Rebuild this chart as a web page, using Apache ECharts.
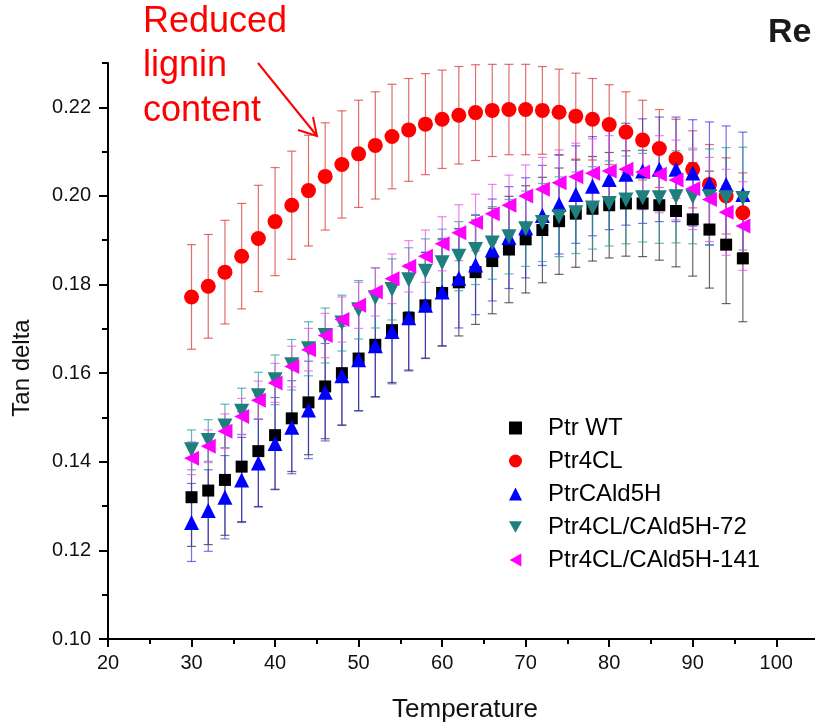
<!DOCTYPE html>
<html>
<head>
<meta charset="utf-8">
<script src="https://cdn.jsdelivr.net/npm/echarts@6/dist/echarts.min.js"></script>
<style>
html,body{margin:0;padding:0;background:#fff;}
#chart{width:815px;height:725px;}
</style>
</head>
<body>
<div id="chart"></div>
<script>
// ---- data ----
var temps = [30,32,34,36,38,40,42,44,46,48,50,52,54,56,58,60,62,64,66,68,70,72,74,76,78,80,82,84,86,88,90,92,94,96];

var seriesNames = ['Ptr WT','Ptr4CL','PtrCAld5H','Ptr4CL/CAld5H-72','Ptr4CL/CAld5H-141'];

var wtVals = [0.1320,0.1335,0.1359,0.1389,0.1424,0.1460,0.1498,0.1534,0.1570,0.1600,0.1633,0.1664,0.1697,0.1725,0.1753,0.1781,0.1805,0.1828,0.1853,0.1879,0.1902,0.1923,0.1943,0.1960,0.1971,0.1979,0.1983,0.1983,0.1979,0.1966,0.1947,0.1924,0.1890,0.1859];
var wtErr  = [0.0111,0.0122,0.0125,0.0124,0.0125,0.0122,0.0120,0.0118,0.0118,0.0117,0.0118,0.0117,0.0118,0.0118,0.0119,0.0120,0.0121,0.0118,0.0119,0.0120,0.0121,0.0119,0.0120,0.0121,0.0118,0.0119,0.0119,0.0120,0.0124,0.0126,0.0128,0.0132,0.0133,0.0143];

var cl4Vals = [0.1772,0.1796,0.1828,0.1864,0.1904,0.1942,0.1979,0.2012,0.2044,0.2071,0.2095,0.2114,0.2134,0.2149,0.2162,0.2173,0.2182,0.2188,0.2193,0.2195,0.2195,0.2193,0.2189,0.2180,0.2173,0.2161,0.2144,0.2126,0.2107,0.2084,0.2060,0.2026,0.2000,0.1962];
var cl4Err  = [0.0118,0.0117,0.0117,0.0119,0.0120,0.0122,0.0122,0.0125,0.0121,0.0121,0.0121,0.0121,0.0118,0.0116,0.0114,0.0111,0.0110,0.0108,0.0104,0.0102,0.0102,0.0099,0.0097,0.0097,0.0092,0.0090,0.0091,0.0090,0.0088,0.0089,0.0087,0.0090,0.0086,0.0090];

var cald5hVals = [0.1263,0.1290,0.1320,0.1359,0.1397,0.1441,0.1478,0.1517,0.1557,0.1594,0.1630,0.1662,0.1694,0.1725,0.1753,0.1783,0.1814,0.1844,0.1878,0.1906,0.1928,0.1956,0.1981,0.2003,0.2022,0.2037,0.2049,0.2056,0.2060,0.2060,0.2052,0.2028,0.2026,0.2003];
var cald5hErr  = [0.0088,0.0092,0.0094,0.0096,0.0099,0.0104,0.0105,0.0110,0.0110,0.0112,0.0115,0.0116,0.0118,0.0120,0.0120,0.0121,0.0112,0.0112,0.0115,0.0115,0.0113,0.0113,0.0112,0.0110,0.0112,0.0113,0.0115,0.0118,0.0118,0.0118,0.0120,0.0139,0.0132,0.0141];

var h72Vals = [0.1427,0.1448,0.1481,0.1514,0.1549,0.1585,0.1619,0.1655,0.1685,0.1713,0.1743,0.1770,0.1789,0.1811,0.1830,0.1849,0.1864,0.1879,0.1894,0.1908,0.1926,0.1940,0.1953,0.1962,0.1973,0.1983,0.1991,0.1996,0.1996,0.1998,0.1998,0.1998,0.1996,0.1994];
var h72Err  = [0.0045,0.0047,0.0049,0.0052,0.0053,0.0056,0.0057,0.0061,0.0062,0.0063,0.0066,0.0068,0.0069,0.0072,0.0073,0.0076,0.0078,0.0079,0.0082,0.0084,0.0085,0.0088,0.0090,0.0092,0.0093,0.0096,0.0099,0.0100,0.0103,0.0104,0.0106,0.0108,0.0113,0.0116];

var h141Vals = [0.1408,0.1435,0.1469,0.1502,0.1539,0.1578,0.1615,0.1653,0.1685,0.1721,0.1753,0.1783,0.1813,0.1841,0.1864,0.1892,0.1917,0.1940,0.1960,0.1979,0.2000,0.2015,0.2030,0.2043,0.2051,0.2056,0.2060,0.2054,0.2049,0.2036,0.2016,0.1992,0.1963,0.1932];
var h141Err  = [0.0037,0.0037,0.0039,0.0041,0.0043,0.0044,0.0046,0.0048,0.0050,0.0051,0.0052,0.0054,0.0056,0.0058,0.0059,0.0061,0.0063,0.0064,0.0066,0.0068,0.0070,0.0072,0.0074,0.0076,0.0078,0.0080,0.0083,0.0085,0.0087,0.0090,0.0092,0.0095,0.0097,0.0100];

var yMajorTicks = [0.10,0.12,0.14,0.16,0.18,0.20,0.22];
var yMinorTicks = [0.11,0.13,0.15,0.17,0.19,0.21,0.23];

// ---- chart ----
var FONT = '"Liberation Sans", Arial, sans-serif';
var DOWN_TRI = 'path://M0,0L2,0L1,1.8Z';
var LEFT_TRI = 'path://M1.8,0L1.8,2L0,1Z';
var chart = echarts.init(document.getElementById('chart'), null, {renderer:'canvas'});

function pts(vals){ return temps.map(function(t,i){ return [t, vals[i]]; }); }
function errPts(vals, errs){ return temps.map(function(t,i){ return [t, vals[i]-errs[i], vals[i]+errs[i]]; }); }

function errSeries(name, vals, errs, color){
  return {
    type:'custom', name:name, xAxisIndex:0, yAxisIndex:0,
    data: errPts(vals, errs),
    encode:{x:0, y:[1,2]},
    silent:true,
    renderItem:function(params, api){
      var x = api.value(0), lo = api.value(1), hi = api.value(2);
      var p1 = api.coord([x, hi]), p2 = api.coord([x, lo]);
      var hw = 4.5;
      var st = {stroke:color, lineWidth:1.2, fill:null};
      return {type:'group', children:[
        {type:'line', shape:{x1:p1[0], y1:p1[1], x2:p2[0], y2:p2[1]}, style:st},
        {type:'line', shape:{x1:p1[0]-hw, y1:p1[1], x2:p1[0]+hw, y2:p1[1]}, style:st},
        {type:'line', shape:{x1:p2[0]-hw, y1:p2[1], x2:p2[0]+hw, y2:p2[1]}, style:st}
      ]};
    }
  };
}
function markSeries(name, vals, symbol, size, color){
  return {
    type:'scatter', name:name, xAxisIndex:0, yAxisIndex:0,
    data: pts(vals), symbol:symbol, symbolSize:size,
    itemStyle:{color:color, opacity:1}
  };
}

var option = {
  backgroundColor:'#ffffff',
  animation:false,
  // x axis runs 20..110 so that its last part falls past the right edge (as in the cropped original)
  grid:{left:108, right:-44.8, top:63, bottom:86, containLabel:false, outerBoundsMode:'none'},
  xAxis:[{
    type:'value', min:20, max:110, interval:10, position:'bottom',
    axisLine:{show:true, onZero:false, lineStyle:{color:'#000', width:2}},
    axisTick:{show:true, inside:false, length:8, lineStyle:{color:'#000', width:2}},
    minorTick:{show:true, splitNumber:2, length:5, lineStyle:{color:'#000', width:2}},
    axisLabel:{show:true, margin:14, fontSize:20, color:'#111', fontFamily:FONT},
    splitLine:{show:false}, minorSplitLine:{show:false}
  }],
  yAxis:[{
    type:'value', min:0.10, max:0.23, position:'left',
    axisLine:{show:true, onZero:false, lineStyle:{color:'#000', width:2}},
    axisTick:{show:true, inside:false, length:9, lineStyle:{color:'#000', width:2}, customValues:yMajorTicks},
    axisLabel:{show:true, margin:17, fontSize:20, color:'#111', fontFamily:FONT, customValues:yMajorTicks,
      formatter:function(v){ return v.toFixed(2); }},
    splitLine:{show:false}
  },{
    type:'value', min:0.10, max:0.23, position:'left',
    axisLine:{show:false, onZero:false},
    axisTick:{show:true, inside:false, length:6, lineStyle:{color:'#000', width:2}, customValues:yMinorTicks},
    axisLabel:{show:false},
    splitLine:{show:false}
  }],
  legend:{
    show:true, orient:'vertical', left:504, top:410,
    data:[
      {name:seriesNames[0]},
      {name:seriesNames[1]},
      {name:seriesNames[2]},
      {name:seriesNames[3], icon:DOWN_TRI},
      {name:seriesNames[4], icon:LEFT_TRI}
    ],
    itemWidth:13, itemHeight:13, itemGap:7,
    textStyle:{fontSize:24, fontFamily:FONT, color:'#000', lineHeight:26, padding:[0,0,0,21]},
    selectedMode:false
  },
  series:[
    errSeries('e1', wtVals, wtErr, 'rgba(40,40,40,0.7)'),
    markSeries(seriesNames[0], wtVals, 'rect', 12, '#000000'),
    errSeries('e2', cl4Vals, cl4Err, 'rgba(215,60,60,0.75)'),
    markSeries(seriesNames[1], cl4Vals, 'circle', 15, '#ff0000'),
    errSeries('e3', cald5hVals, cald5hErr, 'rgba(40,40,220,0.65)'),
    markSeries(seriesNames[2], cald5hVals, 'triangle', 15, '#0000ff'),
    errSeries('e4', h72Vals, h72Err, 'rgba(40,150,150,0.7)'),
    markSeries(seriesNames[3], h72Vals, DOWN_TRI, 15, '#1f7f7f'),
    errSeries('e5', h141Vals, h141Err, 'rgba(230,80,230,0.7)'),
    markSeries(seriesNames[4], h141Vals, LEFT_TRI, 15, '#ff00ff')
  ],
  graphic:[
    {type:'text', x:143, y:22, style:{text:'Reduced', fill:'#ff0000', font:'36px '+FONT, verticalAlign:'middle', align:'left'}},
    {type:'text', x:143, y:66, style:{text:'lignin', fill:'#ff0000', font:'36px '+FONT, verticalAlign:'middle', align:'left'}},
    {type:'text', x:143, y:111, style:{text:'content', fill:'#ff0000', font:'36px '+FONT, verticalAlign:'middle', align:'left'}},
    {type:'polyline', shape:{points:[[258,63],[317,136]]}, style:{stroke:'#ff0000', lineWidth:2, fill:null}},
    {type:'polyline', shape:{points:[[298,130],[317,136],[313,117]]}, style:{stroke:'#ff0000', lineWidth:2, fill:null}},
    {type:'text', x:768, y:33, style:{text:'Re', fill:'#1a1a1a', font:'bold 34px '+FONT, verticalAlign:'middle', align:'left'}},
    {type:'text', x:22, y:368, rotation:Math.PI/2, style:{text:'Tan delta', fill:'#111', font:'24px '+FONT, verticalAlign:'middle', align:'center'}},
    {type:'text', x:465, y:710, style:{text:'Temperature', fill:'#111', font:'26px '+FONT, verticalAlign:'middle', align:'center'}}
  ]
};
chart.setOption(option);
</script>
</body>
</html>
